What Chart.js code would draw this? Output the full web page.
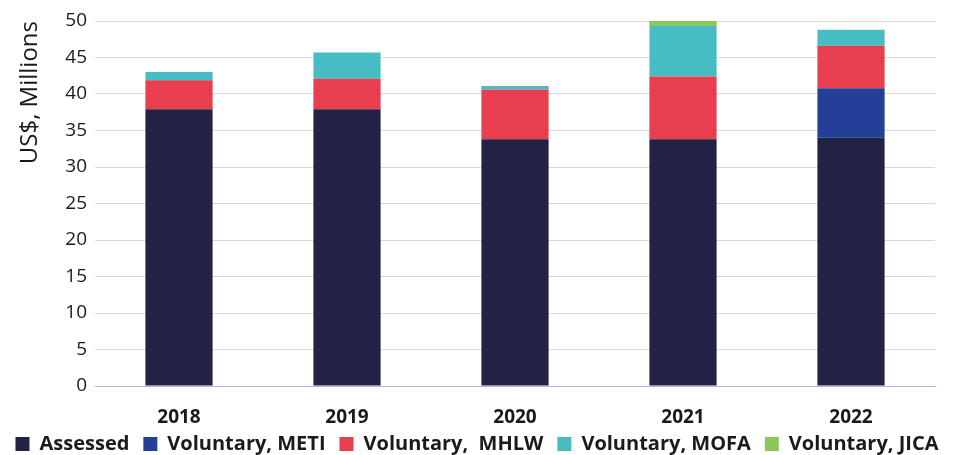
<!DOCTYPE html>
<html lang="en">
<head>
    <meta charset="UTF-8">
    <title>Contributions</title>
    <script src="https://cdn.jsdelivr.net/npm/chart.js"></script>
    <style>
        html, body { margin: 0; padding: 0; background: #fff; }
        .janela { width: 954px; height: 455px; position: relative; }
    </style>
</head>
<body>
    <div class="janela">
        <canvas id="grafico"></canvas>
    </div>

<script>
    const anos = ['2018', '2019', '2020', '2021', '2022'];
    const assessed = [37.9, 37.9, 33.8, 33.8, 34.0];
    const voluntarioMETI = [0, 0, 0, 0, 6.8];
    const voluntarioMHLW = [4.0, 4.2, 6.8, 8.6, 5.8];
    const voluntarioMOFA = [1.1, 3.6, 0.5, 6.9, 2.2];
    const voluntarioJICA = [0, 0, 0, 0.7, 0];
    const ticksY = [0, 5, 10, 15, 20, 25, 30, 35, 40, 45, 50];

    const fonte = "'Open Sans', 'Noto Sans', sans-serif";

    // sobe a legenda um pouco para ficar encostada nos rótulos do eixo x
    const subirLegenda = {
        id: 'subirLegenda',
        afterLayout(chart) {
            const legenda = chart.legend;
            if (!legenda) return;
            legenda.top -= 11;
            legenda.bottom -= 11;
        }
    };

    const ctx = document.getElementById('grafico');

    new Chart(ctx, {
        type: 'bar',
        data: {
            labels: anos,
            datasets: [
                { label: 'Assessed', data: assessed, backgroundColor: '#222344' },
                { label: 'Voluntary, METI', data: voluntarioMETI, backgroundColor: '#233f98' },
                { label: 'Voluntary,  MHLW', data: voluntarioMHLW, backgroundColor: '#e83f4e' },
                { label: 'Voluntary, MOFA', data: voluntarioMOFA, backgroundColor: '#45bdc3' },
                { label: 'Voluntary, JICA', data: voluntarioJICA, backgroundColor: '#8bc75a' }
            ]
        },
        plugins: [subirLegenda],
        options: {
            responsive: true,
            maintainAspectRatio: false,
            animation: false,
            datasets: {
                bar: { categoryPercentage: 1, barPercentage: 0.4, borderWidth: 0 }
            },
            layout: { padding: { top: 21, right: 0, left: 0, bottom: -20 } },
            plugins: {
                tooltip: { enabled: false },
                legend: {
                    position: 'bottom',
                    labels: {
                        font: { family: fonte, size: 20, weight: 'bold' },
                        color: '#1a1a1a',
                        boxWidth: 14,
                        boxHeight: 14,
                        padding: 14
                    }
                }
            },
            scales: {
                x: {
                    stacked: true,
                    grid: { display: false, drawTicks: false },
                    border: { color: '#b9b0dc', width: 1 },
                    ticks: {
                        font: { family: fonte, size: 19, weight: 'bold' },
                        color: '#1a1a1a',
                        padding: 20
                    },
                    afterFit: scale => { scale.height = 45; }
                },
                y: {
                    stacked: true,
                    min: 0,
                    max: 50,
                    afterBuildTicks: scale => { scale.ticks = ticksY.map(v => ({ value: v })); },
                    grid: { color: '#d9d9d9', drawTicks: false },
                    border: { display: false },
                    ticks: {
                        font: { family: fonte, size: 19 },
                        color: '#1a1a1a',
                        padding: 8
                    },
                    title: {
                        display: true,
                        align: 'end',
                        text: 'US$, Millions',
                        font: { family: fonte, size: 24 },
                        color: '#1a1a1a',
                        padding: { top: 16, bottom: 0 }
                    },
                    afterFit: scale => { scale.width = 95; }
                },
                margemDireita: {
                    position: 'right',
                    min: 0,
                    max: 1,
                    grid: { display: false, drawTicks: false },
                    border: { display: false },
                    ticks: { display: false },
                    afterFit: scale => { scale.width = 19; }
                }
            }
        }
    });
</script>
</body>
</html>
